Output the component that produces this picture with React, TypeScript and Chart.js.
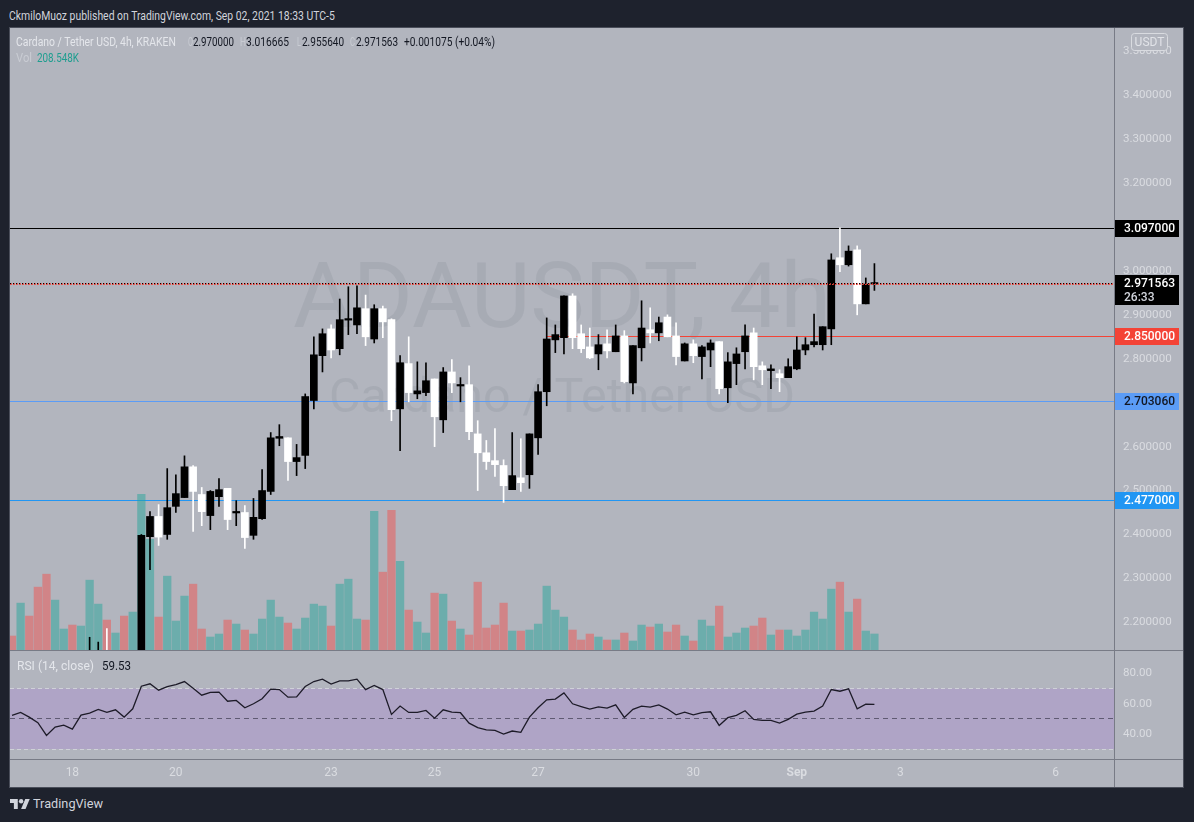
import React, { useEffect, useRef } from "react";
import { Chart, registerables } from "chart.js";

Chart.register(...registerables);

const FONT = "Roboto, 'Liberation Sans', Arial, sans-serif";

// ---- DATA: 4h bars (UTC-5), bar 0 = Aug 16 23:00, last bar = Sep 2 15:00 ----
const opens = [
  2.095, 2.085, 2.105, 2.092, 2.07, 2.035, 2.058, 2.066, 2.055, 2.098, 2.11, 2.128, 2.115, 2.126, 2.105,
  2.122, 2.395, 2.441, 2.4, 2.464, 2.484, 2.554, 2.491, 2.443, 2.486,
  2.505, 2.449, 2.45, 2.398, 2.436, 2.498, 2.619, 2.62, 2.566, 2.58,
  2.705, 2.807, 2.868, 2.823, 2.888, 2.877, 2.914, 2.845, 2.914, 2.889,
  2.686, 2.789, 2.72, 2.723, 2.754, 2.661, 2.77, 2.738, 2.741, 2.629,
  2.586, 2.568, 2.557, 2.502, 2.529, 2.536, 2.62, 2.725, 2.843, 2.848,
  2.943, 2.857, 2.827, 2.811, 2.834, 2.816, 2.852, 2.745, 2.825, 2.866,
  2.859, 2.895, 2.852, 2.795, 2.834, 2.805, 2.82, 2.839, 2.734, 2.789,
  2.816, 2.859, 2.784, 2.773, 2.766, 2.757, 2.777, 2.82, 2.832, 2.832,
  2.868, 3.03, 3.014, 3.048, 2.925, 2.97,
];
const highs = [
  2.11, 2.12, 2.115, 2.1, 2.078, 2.065, 2.075, 2.072, 2.105, 2.166, 2.155, 2.186, 2.132, 2.13, 2.13,
  2.4, 2.452, 2.468, 2.55, 2.536, 2.579, 2.557, 2.507, 2.5, 2.527,
  2.505, 2.477, 2.466, 2.482, 2.548, 2.632, 2.65, 2.62, 2.605, 2.72,
  2.85, 2.868, 2.877, 2.936, 2.964, 2.966, 2.945, 2.923, 2.92, 2.891,
  2.807, 2.85, 2.793, 2.791, 2.754, 2.78, 2.798, 2.757, 2.784, 2.659,
  2.614, 2.641, 2.57, 2.632, 2.618, 2.629, 2.741, 2.893, 2.877, 2.943,
  2.948, 2.877, 2.87, 2.855, 2.866, 2.877, 2.864, 2.83, 2.932, 2.916,
  2.895, 2.9, 2.882, 2.836, 2.843, 2.83, 2.843, 2.839, 2.814, 2.825,
  2.877, 2.87, 2.793, 2.786, 2.775, 2.8, 2.85, 2.848, 2.902, 2.873,
  3.039, 3.098, 3.057, 3.057, 2.984, 3.016665,
];
const lows = [
  2.075, 2.08, 2.085, 2.06, 2.02, 2.025, 2.05, 2.045, 2.05, 2.09, 2.1, 2.105, 2.108, 2.095, 2.1,
  2.11, 2.32, 2.375, 2.389, 2.45, 2.484, 2.407, 2.42, 2.411, 2.464,
  2.411, 2.42, 2.368, 2.389, 2.434, 2.491, 2.602, 2.523, 2.534, 2.55,
  2.686, 2.77, 2.802, 2.809, 2.855, 2.857, 2.83, 2.836, 2.848, 2.659,
  2.591, 2.702, 2.709, 2.716, 2.6, 2.632, 2.723, 2.702, 2.616, 2.5,
  2.548, 2.532, 2.473, 2.502, 2.498, 2.505, 2.582, 2.693, 2.814, 2.811,
  2.823, 2.814, 2.8, 2.775, 2.802, 2.816, 2.745, 2.72, 2.795, 2.836,
  2.841, 2.85, 2.786, 2.795, 2.791, 2.754, 2.782, 2.72, 2.7, 2.741,
  2.777, 2.752, 2.741, 2.732, 2.725, 2.757, 2.775, 2.809, 2.827, 2.82,
  2.832, 2.998, 3.011, 2.9, 2.925, 2.95564,
];
const closes = [
  2.085, 2.105, 2.092, 2.07, 2.035, 2.058, 2.066, 2.055, 2.098, 2.11, 2.128, 2.115, 2.126, 2.105, 2.122,
  2.398, 2.441, 2.394, 2.461, 2.493, 2.554, 2.498, 2.452, 2.498, 2.502,
  2.434, 2.451, 2.393, 2.439, 2.5, 2.62, 2.623, 2.566, 2.575, 2.714,
  2.809, 2.857, 2.82, 2.889, 2.89, 2.916, 2.85, 2.914, 2.884, 2.684,
  2.791, 2.723, 2.727, 2.75, 2.668, 2.77, 2.745, 2.74, 2.634, 2.586,
  2.566, 2.559, 2.511, 2.534, 2.518, 2.629, 2.725, 2.845, 2.855, 2.943,
  2.848, 2.823, 2.802, 2.832, 2.818, 2.852, 2.748, 2.83, 2.87, 2.859,
  2.882, 2.85, 2.805, 2.834, 2.807, 2.827, 2.836, 2.732, 2.793, 2.811,
  2.852, 2.782, 2.775, 2.777, 2.757, 2.782, 2.82, 2.832, 2.839, 2.873,
  3.025, 3.014, 3.045, 2.925, 2.97, 2.971563,
];
// volume in thousands of ADA
const volumesK = [
  182, 611, 442, 819, 988, 650, 273, 325, 312, 910, 598, 390, 221, 442, 494,
  2028, 1443, 429, 962, 377, 702, 858, 273, 169, 208,
  390, 338, 260, 208, 403, 650, 429, 351, 273, 416,
  598, 572, 312, 858, 923, 403, 390, 1807, 1014, 1820,
  1157, 520, 364, 221, 741, 728, 377, 273, 195, 884,
  286, 325, 611, 247, 247, 260, 338, 832, 520, 429,
  260, 130, 208, 169, 130, 130, 221, 117, 325, 299,
  338, 234, 325, 182, 117, 390, 312, 572, 169, 221,
  286, 312, 416, 195, 260, 260, 182, 260, 494, 403,
  793, 884, 494, 663, 247, 208.548,
];
const rsiValues = [
  52.2, 54.2, 51.1, 47.4, 39.0, 44.5, 45.8, 43.2, 52.4, 53.7, 56.2, 54.2, 55.9, 51.1, 56.6,
  71.5, 73.1, 68.9, 71.3, 72.6, 74.6, 70.2, 65.6, 67.4, 67.6,
  61.6, 62.1, 57.3, 59.9, 63.2, 69.6, 69.3, 64.3, 64.5, 71.3,
  74.6, 76.2, 72.9, 75.1, 75.1, 76.2, 69.3, 72.0, 69.3, 52.9,
  58.4, 54.2, 54.2, 55.5, 50.4, 55.9, 54.4, 54.0, 47.1, 44.1,
  42.7, 42.3, 39.9, 41.9, 41.0, 51.1, 57.3, 62.5, 63.0, 67.1,
  59.9, 58.1, 56.4, 57.9, 57.0, 59.2, 50.9, 56.2, 58.4, 57.7,
  59.2, 56.4, 52.6, 54.4, 52.6, 54.0, 54.6, 45.6, 50.7, 52.2,
  55.3, 49.6, 48.9, 48.9, 47.1, 49.6, 53.1, 54.4, 55.1, 58.4,
  69.3, 68.2, 69.8, 56.6, 59.7, 59.53,
];

const priceTicks = [2.2, 2.3, 2.4, 2.5, 2.6, 2.7, 2.8, 2.9, 3.0, 3.1, 3.2, 3.3, 3.4, 3.5];
const rsiTicks = [40, 60, 80];
const rsiBand = [30, 70];
const rsiMid = 50;
const dayTickDays = [18, 20, 23, 25, 27, 30, 32, 34, 37];
const dayTickLabels = ["18", "20", "23", "25", "27", "30", "Sep", "3", "6"];
const monthLabels = ["Sep"];
const FIRST_BAR_OF_AUG18 = 7;
const BARS_PER_DAY = 6;

const levelPrices = [3.097, 2.85, 2.70306, 2.477];
const levelLabels = ["3.097000", "2.850000", "2.703060", "2.477000"];
const levelFromBar: (number | null)[] = [null, 62, null, null];
const lastPrice = 2.971563;
const lastPriceLabel = "2.971563";
const countdown = "26:33";

// ---- scale ranges ----
const BAR_MIN = -0.232;
const BAR_MAX = 127.78;
const PRICE_MIN = 2.137;
const PRICE_MAX = 3.553;
const VOL_MAX = 8105;
const RSI_MIN = 23.4;
const RSI_MAX = 94.8;

// ---- styles ----
const PAGE_BG = "#1e222d";
const PANE_BG = "#b2b5be";
const SEP = "#787b86";
const AXIS_TEXT = "#dadce1";
const UP_VOL = "rgba(38,166,154,0.5)";
const DOWN_VOL = "rgba(239,83,80,0.5)";
const levelLineColors = ["#000000", "#f44336", "#5b9cf6", "#2196f3"];
const levelBoxColors = ["#000000", "#f44336", "#5b9cf6", "#2196f3"];
const levelTextColors = ["#ffffff", "#ffffff", "#131722", "#ffffff"];

const idx = opens.map((_, i) => i);

function fitFont(ctx: CanvasRenderingContext2D, text: string, width: number) {
  ctx.font = `400 100px ${FONT}`;
  const w = ctx.measureText(text).width;
  return (100 * width) / w;
}

const priceOverlay = {
  id: "priceOverlay",
  beforeDatasetsDraw(chart: any) {
    const { ctx, chartArea: a, scales } = chart;
    const xs = scales.x;
    const ys = scales.y;
    ctx.save();
    ctx.beginPath();
    ctx.rect(a.left, a.top, a.right - a.left, a.bottom - a.top);
    ctx.clip();
    // watermark
    const cx = (a.left + a.right) / 2;
    ctx.fillStyle = "rgba(80,85,100,0.10)";
    ctx.textAlign = "center";
    ctx.textBaseline = "alphabetic";
    let fs = fitFont(ctx, "ADAUSDT, 4h", 538);
    ctx.font = `400 ${fs}px ${FONT}`;
    ctx.fillText("ADAUSDT, 4h", cx, 299);
    fs = fitFont(ctx, "Cardano / Tether USD", 466);
    ctx.font = `400 ${fs}px ${FONT}`;
    ctx.fillText("Cardano / Tether USD", cx, 384);
    // horizontal levels
    levelPrices.forEach((p, i) => {
      const py = Math.floor(ys.getPixelForValue(p));
      const fb = levelFromBar[i];
      const x0 = fb == null ? a.left : xs.getPixelForValue(fb);
      ctx.fillStyle = levelLineColors[i];
      ctx.fillRect(x0, py, a.right - x0, 1);
    });
    ctx.restore();
  },
  afterDatasetsDraw(chart: any) {
    const { ctx, chartArea: a, scales } = chart;
    const ys = scales.y;
    ctx.save();
    const py = Math.floor(ys.getPixelForValue(lastPrice));
    for (let x = a.left; x < a.right; x += 3) {
      ctx.fillStyle = "#000000";
      ctx.fillRect(x, py, 1, 1);
      ctx.fillStyle = "#e8433a";
      ctx.fillRect(x, py + 1, 1, 1);
      ctx.fillStyle = "rgba(232,67,58,0.75)";
      ctx.fillRect(x + 1, py, 1, 2);
    }
    ctx.restore();
  },
  afterDraw(chart: any) {
    const { ctx, chartArea: a, scales, height } = chart;
    const ys = scales.y;
    ctx.save();
    ctx.fillStyle = SEP;
    ctx.fillRect(a.right, 0, 1, height);
    ctx.font = `500 12px ${FONT}`;
    ctx.textBaseline = "middle";
    ctx.textAlign = "left";
    levelPrices.forEach((p, i) => {
      const py = ys.getPixelForValue(p);
      ctx.fillStyle = levelBoxColors[i];
      ctx.fillRect(a.right + 1, Math.round(py - 8.5), 64, 17);
      ctx.fillStyle = levelTextColors[i];
      ctx.fillText(levelLabels[i], a.right + 10, py + 0.5);
    });
    const ly = ys.getPixelForValue(lastPrice);
    ctx.fillStyle = "#000000";
    ctx.fillRect(a.right + 1, Math.round(ly - 8.5), 64, 30);
    ctx.fillStyle = "#ffffff";
    ctx.fillText(lastPriceLabel, a.right + 10, ly + 0.5);
    ctx.fillStyle = "#d1d4dc";
    ctx.fillText(countdown, a.right + 10, ly + 14.5);
    // currency box
    const bx = a.right + 17.5;
    const by = 5.5;
    const bw = 36;
    const bh = 17;
    ctx.fillStyle = PANE_BG;
    ctx.strokeStyle = "#d9dbe0";
    ctx.lineWidth = 1;
    ctx.beginPath();
    (ctx as any).roundRect(bx, by, bw, bh, 3);
    ctx.fill();
    ctx.stroke();
    ctx.fillStyle = "#e1e3e8";
    ctx.textAlign = "center";
    ctx.font = `400 12px ${FONT}`;
    ctx.fillText("USDT", bx + bw / 2, by + bh / 2 + 0.5);
    ctx.restore();
  },
};

const rsiOverlay = {
  id: "rsiOverlay",
  beforeDatasetsDraw(chart: any) {
    const { ctx, chartArea: a, scales } = chart;
    const ys = scales.y;
    ctx.save();
    const yTop = ys.getPixelForValue(rsiBand[1]);
    const yBot = ys.getPixelForValue(rsiBand[0]);
    ctx.fillStyle = "#afa4c6";
    ctx.fillRect(a.left, yTop, a.right - a.left, yBot - yTop);
    ctx.lineWidth = 1;
    ctx.setLineDash([4, 3]);
    ctx.strokeStyle = "#cfd1d8";
    [yTop, yBot].forEach((yy) => {
      const r = Math.floor(yy) + 0.5;
      ctx.beginPath();
      ctx.moveTo(a.left, r);
      ctx.lineTo(a.right, r);
      ctx.stroke();
    });
    ctx.setLineDash([5, 4]);
    ctx.strokeStyle = "#5f5a72";
    const ym = Math.floor(ys.getPixelForValue(rsiMid)) + 0.5;
    ctx.beginPath();
    ctx.moveTo(a.left, ym);
    ctx.lineTo(a.right, ym);
    ctx.stroke();
    ctx.restore();
  },
  afterDraw(chart: any) {
    const { ctx, chartArea: a, width, height } = chart;
    ctx.save();
    ctx.fillStyle = SEP;
    ctx.fillRect(a.right, 0, 1, height);
    ctx.fillRect(0, a.bottom, width, 1);
    ctx.restore();
  },
};

const measureCtx: CanvasRenderingContext2D | null =
  typeof document !== "undefined" ? document.createElement("canvas").getContext("2d") : null;

function FitText(props: {
  text: string;
  left: number;
  cy: number;
  width?: number;
  size: number;
  color: string;
  weight?: number;
}) {
  const { text, left, cy, width, size, color, weight = 400 } = props;
  let sx = 1;
  if (measureCtx && width) {
    measureCtx.font = `${weight} ${size}px ${FONT}`;
    const w = measureCtx.measureText(text).width;
    if (w > 0) sx = width / w;
  }
  return (
    <span
      style={{
        position: "absolute",
        left,
        top: cy - size * 0.6,
        fontFamily: FONT,
        fontSize: size,
        fontWeight: weight,
        lineHeight: `${size * 1.2}px`,
        color,
        whiteSpace: "nowrap",
        transform: `scaleX(${sx})`,
        transformOrigin: "left center",
      }}
    >
      {text}
    </span>
  );
}

export default function App() {
  const priceRef = useRef<HTMLCanvasElement | null>(null);
  const rsiRef = useRef<HTMLCanvasElement | null>(null);

  useEffect(() => {
    document.body.style.margin = "0";
    document.body.style.background = PAGE_BG;
    Chart.defaults.font.family = FONT;

    const up = idx.map((i) => closes[i] >= opens[i]);
    const candleColors = idx.map((i) => (up[i] ? "#000000" : "#ffffff"));
    const volColors = idx.map((i) => (up[i] ? UP_VOL : DOWN_VOL));

    const priceChart = new Chart(priceRef.current as HTMLCanvasElement, {
      type: "bar",
      data: {
        datasets: [
          {
            yAxisID: "vol",
            data: idx.map((i) => ({ x: i, y: volumesK[i] })),
            backgroundColor: volColors,
            barThickness: 7.6,
            grouped: false,
            order: 3,
            clip: 0,
            borderWidth: 0,
          } as any,
          {
            yAxisID: "y",
            data: idx.map((i) => ({ x: i, y: [lows[i], highs[i]] })),
            backgroundColor: candleColors,
            barThickness: 1,
            grouped: false,
            order: 2,
            clip: 0,
            borderWidth: 0,
          } as any,
          {
            yAxisID: "y",
            data: idx.map((i) => ({ x: i, y: [opens[i], closes[i]] })),
            backgroundColor: candleColors,
            barThickness: 7,
            minBarLength: 1.5,
            grouped: false,
            order: 1,
            clip: 0,
            borderWidth: 0,
          } as any,
        ],
      },
      options: {
        responsive: false,
        maintainAspectRatio: false,
        animation: false,
        events: [],
        layout: { padding: 0 },
        plugins: { legend: { display: false }, tooltip: { enabled: false } },
        scales: {
          x: { type: "linear", min: BAR_MIN, max: BAR_MAX, display: false, offset: false },
          y: {
            type: "linear",
            position: "right",
            min: PRICE_MIN,
            max: PRICE_MAX,
            grid: { display: false, drawTicks: false },
            border: { display: false },
            afterBuildTicks: (s: any) => {
              s.ticks = priceTicks.map((v) => ({ value: v }));
            },
            afterFit: (s: any) => {
              s.width = 69;
              s.paddingTop = 0;
              s.paddingBottom = 0;
            },
            ticks: {
              color: AXIS_TEXT,
              font: { size: 11.6 },
              padding: 9,
              autoSkip: false,
              callback: (v: any) => Number(v).toFixed(6),
            },
          },
          vol: { type: "linear", axis: "y", position: "left", display: false, min: 0, max: VOL_MAX },
        } as any,
      },
      plugins: [priceOverlay],
    } as any);

    const rsiChart = new Chart(rsiRef.current as HTMLCanvasElement, {
      type: "line",
      data: {
        datasets: [
          {
            data: idx.map((i) => ({ x: i, y: rsiValues[i] })),
            borderColor: "#1d1b28",
            borderWidth: 1.3,
            pointRadius: 0,
            tension: 0,
            fill: false,
            clip: 0,
          } as any,
        ],
      },
      options: {
        responsive: false,
        maintainAspectRatio: false,
        animation: false,
        events: [],
        layout: { padding: 0 },
        plugins: { legend: { display: false }, tooltip: { enabled: false } },
        scales: {
          x: {
            type: "linear",
            min: BAR_MIN,
            max: BAR_MAX,
            offset: false,
            grid: { display: false, drawTicks: false },
            border: { display: false },
            afterBuildTicks: (s: any) => {
              s.ticks = dayTickDays.map((d) => ({ value: FIRST_BAR_OF_AUG18 + (d - 18) * BARS_PER_DAY }));
            },
            afterFit: (s: any) => {
              s.height = 28;
              s.paddingLeft = 0;
              s.paddingRight = 0;
            },
            ticks: {
              color: AXIS_TEXT,
              font: (c: any) => ({
                size: 12,
                weight: c && c.tick && monthLabels.includes(c.tick.label) ? "bold" : "normal",
              }),
              padding: 7,
              autoSkip: false,
              maxRotation: 0,
              callback: (_v: any, i: number) => dayTickLabels[i],
            },
          },
          y: {
            type: "linear",
            position: "right",
            min: RSI_MIN,
            max: RSI_MAX,
            grid: { display: false, drawTicks: false },
            border: { display: false },
            afterBuildTicks: (s: any) => {
              s.ticks = rsiTicks.map((v) => ({ value: v }));
            },
            afterFit: (s: any) => {
              s.width = 69;
              s.paddingTop = 0;
              s.paddingBottom = 0;
            },
            ticks: {
              color: AXIS_TEXT,
              font: { size: 11.6 },
              padding: 9,
              autoSkip: false,
              callback: (v: any) => Number(v).toFixed(2),
            },
          },
        } as any,
      },
      plugins: [rsiOverlay],
    } as any);

    return () => {
      priceChart.destroy();
      rsiChart.destroy();
    };
  }, []);

  const dim = "#c9ccd3";
  const dark = "#131722";

  return (
    <div
      style={{
        position: "relative",
        width: 1194,
        height: 822,
        background: PAGE_BG,
        overflow: "hidden",
        fontFamily: FONT,
      }}
    >
      <FitText
        text="CkmiloMuoz published on TradingView.com, Sep 02, 2021 18:33 UTC-5"
        left={9}
        cy={15}
        width={326}
        size={12.5}
        color="#d1d4dc"
      />
      <div
        style={{
          position: "absolute",
          left: 10,
          top: 28,
          width: 1173,
          height: 759,
          background: PANE_BG,
          boxShadow: "0 0 0 1px #4a4e5a",
        }}
      />
      <canvas
        ref={priceRef}
        width={1173}
        height={622}
        style={{ position: "absolute", left: 10, top: 28, width: 1173, height: 622 }}
      />
      <div style={{ position: "absolute", left: 10, top: 650, width: 1173, height: 1, background: SEP }} />
      <canvas
        ref={rsiRef}
        width={1173}
        height={136}
        style={{ position: "absolute", left: 10, top: 651, width: 1173, height: 136 }}
      />

      {/* legend */}
      <FitText text="Cardano / Tether USD, 4h, KRAKEN" left={16} cy={42.3} width={160} size={12} color="#e4e6eb" />
      <FitText text="O" left={188} cy={42.3} width={5} size={12} color={dim} />
      <FitText text="2.970000" left={193} cy={42.3} width={41} size={12} color={dark} />
      <FitText text="H" left={240} cy={42.3} width={6} size={12} color={dim} />
      <FitText text="3.016665" left={246} cy={42.3} width={43} size={12} color={dark} />
      <FitText text="L" left={297} cy={42.3} width={4} size={12} color={dim} />
      <FitText text="2.955640" left={302} cy={42.3} width={42} size={12} color={dark} />
      <FitText text="C" left={350} cy={42.3} width={5} size={12} color={dim} />
      <FitText text="2.971563" left={356} cy={42.3} width={42} size={12} color={dark} />
      <FitText text="+0.001075 (+0.04%)" left={404} cy={42.3} width={91} size={12} color={dark} />
      <FitText text="Vol" left={16} cy={57.7} width={16} size={12} color={dim} />
      <FitText text="208.548K" left={37} cy={57.7} width={42} size={12} color="#1f9e90" />

      <FitText text="RSI (14, close)" left={17} cy={665.7} width={77} size={12} color="#e4e6eb" />
      <FitText text="59.53" left={102} cy={665.7} width={29} size={12} color={dark} />

      {/* footer */}
      <svg
        style={{ position: "absolute", left: 10, top: 799 }}
        width={20}
        height={10}
        viewBox="0 4 36 18"
      >
        <path d="M14 22H7V11H0V4h14v18z" fill="#d1d4dc" />
        <circle cx="20" cy="8" r="4" fill="#d1d4dc" />
        <path d="M28 22h-8l7.5-18h8z" fill="#d1d4dc" />
      </svg>
      <FitText text="TradingView" left={33} cy={804} width={70} size={13} color="#d1d4dc" />
    </div>
  );
}
